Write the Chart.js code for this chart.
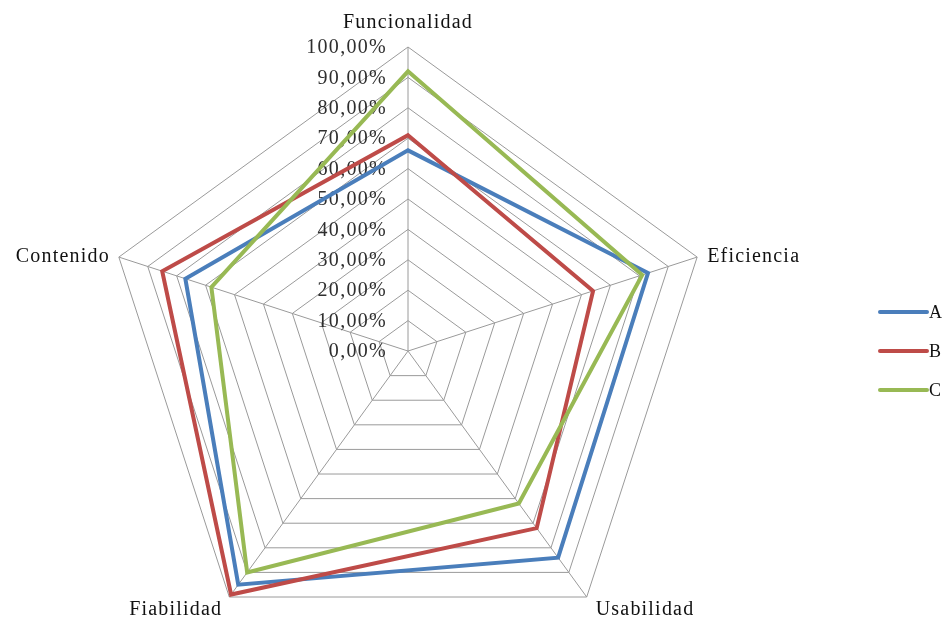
<!DOCTYPE html>
<html>
<head>
<meta charset="utf-8">
<script src="https://cdn.jsdelivr.net/npm/chart.js@4.4.1/dist/chart.umd.min.js"></script>
<style>
  html, body { margin: 0; padding: 0; background: #fff; overflow: hidden; }
  #wrap { position: relative; width: 947px; height: 619px; }
</style>
</head>
<body>
<div id="wrap"><canvas id="radarChart" width="947" height="619"></canvas></div>
<script>
const categories  = ["Funcionalidad", "Eficiencia", "Usabilidad", "Fiabilidad", "Contenido"];
const seriesNames = ["A", "B", "C"];
const valuesA     = [66, 83, 84, 95, 77];
const valuesB     = [71, 64, 72, 99, 85];
const valuesC     = [92, 81, 62, 90, 68];
const tickLabels  = ["0,00%", "10,00%", "20,00%", "30,00%", "40,00%", "50,00%",
                     "60,00%", "70,00%", "80,00%", "90,00%", "100,00%"];

const COLORS = ["#4A7EBB", "#BE4B48", "#98B954"];
const SERIF  = "'Liberation Serif', 'Times New Roman', serif";

// tick labels, axis names and legend are drawn here so they sit like the Excel original
const textPlugin = {
  id: "radarText",
  beforeDatasetsDraw(chart){
    const scale = chart.scales.r;
    const ctx = chart.ctx;
    ctx.save();
    ctx.letterSpacing = "1.3px";
    ctx.font = `20px ${SERIF}`;
    ctx.fillStyle = "#2e2e2e";
    ctx.textAlign = "right";
    ctx.textBaseline = "middle";
    scale.ticks.forEach((tick) => {
      const p = scale.getPointPositionForValue(0, tick.value);
      ctx.fillText(tick.label, p.x - 21, p.y + 1);
    });
    ctx.restore();
  },
  afterDraw(chart){
    const scale = chart.scales.r;
    const ctx = chart.ctx;
    ctx.save();
    ctx.letterSpacing = "1.2px";
    ctx.font = `20px ${SERIF}`;
    ctx.fillStyle = "#111";
    ctx.textBaseline = "alphabetic";
    categories.forEach((name, i) => {
      const p  = scale.getPointPosition(i, scale.drawingArea);
      const dx = p.x - scale.xCenter;
      const dy = p.y - scale.yCenter;
      if(Math.abs(dx) < 1){
        ctx.textAlign = "center";
        ctx.fillText(name, p.x, p.y - 19);
      } else if(dy > 0){
        ctx.textAlign = dx > 0 ? "left" : "right";
        ctx.fillText(name, dx > 0 ? p.x + 9 : p.x - 7, p.y + 18);
      } else {
        ctx.textAlign = dx > 0 ? "left" : "right";
        ctx.fillText(name, dx > 0 ? p.x + 10 : p.x - 9, p.y + 5);
      }
    });

    // legend
    ctx.font = `18px ${SERIF}`;
    ctx.textAlign = "left";
    ctx.textBaseline = "middle";
    chart.data.datasets.forEach((ds, i) => {
      const y = scale.yCenter + (i - 1) * 39;
      ctx.strokeStyle = ds.borderColor;
      ctx.lineWidth = 4;
      ctx.lineCap = "round";
      ctx.beginPath();
      ctx.moveTo(880, y);
      ctx.lineTo(927, y);
      ctx.stroke();
      ctx.fillStyle = "#111";
      ctx.fillText(ds.label, 929, y + 1);
    });
    ctx.restore();
  }
};

const seriesValues = [valuesA, valuesB, valuesC];

new Chart(document.getElementById("radarChart"), {
  type: "radar",
  data: {
    labels: categories,
    datasets: seriesNames.map((name, i) => ({
      label: name,
      data: seriesValues[i],
      borderColor: COLORS[i],
      backgroundColor: "transparent",
      borderWidth: 4,
      pointRadius: 0,
      pointHoverRadius: 0,
      fill: false,
      clip: false,
      order: seriesNames.length - i
    }))
  },
  options: {
    responsive: false,
    animation: false,
    devicePixelRatio: 1,
    layout: { padding: { left: 105, right: 236, top: 47, bottom: 22 } },
    plugins: {
      legend: { display: false },
      tooltip: { enabled: false }
    },
    scales: {
      r: {
        min: 0,
        max: 100,
        ticks: {
          stepSize: 10,
          display: false,
          callback: (v, idx) => tickLabels[idx]
        },
        pointLabels: { display: false },
        grid: { circular: false, color: "#9a9a9a", lineWidth: 1 },
        angleLines: { color: "#9a9a9a", lineWidth: 1 },
        // pentagon: fit top vertex and bottom vertices into the chart area
        afterFit(scale){
          const r = (scale.bottom - scale.top) / (1 + Math.cos(Math.PI / 5));
          scale.drawingArea = r;
          scale.yCenter = scale.top + r;
        }
      }
    }
  },
  plugins: [textPlugin]
});
</script>
</body>
</html>
